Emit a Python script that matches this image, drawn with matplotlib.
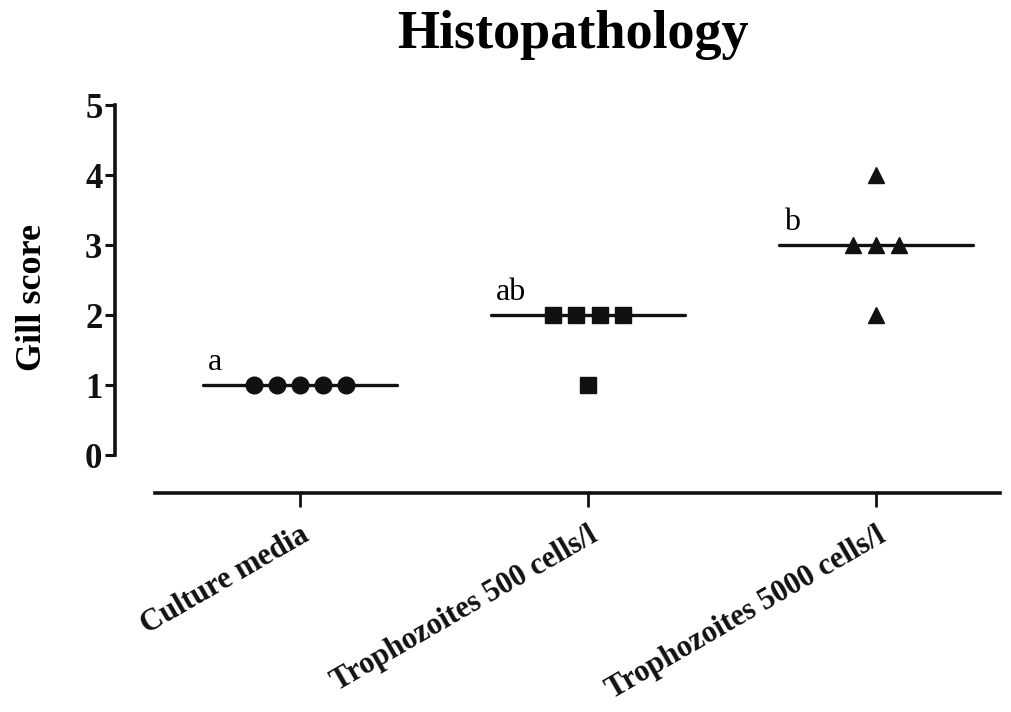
import matplotlib
matplotlib.use('Agg')
import matplotlib.pyplot as plt
import numpy as np

plt.rcParams['font.family'] = ['Liberation Serif', 'DejaVu Serif']

groups = ['Culture media', 'Trophozoites 500 cells/l', 'Trophozoites 5000 cells/l']
scores = [[1, 1, 1, 1, 1],
          [2, 2, 1, 2, 2],
          [3, 3, 4, 2, 3]]
offsets = [[-0.16, -0.08, 0.0, 0.08, 0.16],
           [-0.12, -0.04, 0.0, 0.04, 0.12],
           [-0.08, 0.0, 0.0, 0.0, 0.08]]
medians = [1, 2, 3]
letters = ['a', 'ab', 'b']
markers = ['o', 's', '^']
sizes = [12, 11.5, 11.5]

fig = plt.figure(figsize=(10.11, 7.12), dpi=100)
ax = fig.add_axes([0.1137, 0.3076, 0.8754, 0.5498])

for i in range(3):
    ax.plot([i - 0.337, i + 0.337], [medians[i]] * 2, color='#111111', lw=2.4,
            solid_capstyle='round', zorder=2)
    x = i + np.array(offsets[i])
    ax.plot(x, scores[i], linestyle='none', marker=markers[i], ms=sizes[i],
            color='#111111', zorder=3)
    ax.text(i - 0.32, medians[i] + 0.32, letters[i], fontsize=23,
            ha='left', va='center')

ax.set_xlim(-0.642, 2.43)
ax.set_ylim(-0.54, 5.05)
ax.spines['top'].set_visible(False)
ax.spines['right'].set_visible(False)
ax.spines['left'].set_bounds(0, 5)
ax.spines['bottom'].set_bounds(-0.503, 2.43)
for s in ['left', 'bottom']:
    ax.spines[s].set_linewidth(2.6)
    ax.spines[s].set_color('#111111')

ax.set_yticks(range(6))
ax.set_yticklabels([str(v) for v in range(6)], fontsize=25, fontweight='bold')
ax.tick_params(axis='y', length=7, width=2.2, pad=2, colors='#111111')
ax.set_xticks(range(3))
ax.set_xticklabels(groups, fontsize=22, fontweight='bold', rotation=30,
                   ha='right', rotation_mode='anchor')
ax.tick_params(axis='x', length=10, width=2, pad=10, colors='#111111')

ax.set_ylabel('Gill score', fontsize=26, fontweight='bold', labelpad=26)
fig.text(0.567, 0.951, 'Histopathology', fontsize=39, fontweight='bold',
         ha='center', va='center')

fig.savefig('out.png', dpi=100)
